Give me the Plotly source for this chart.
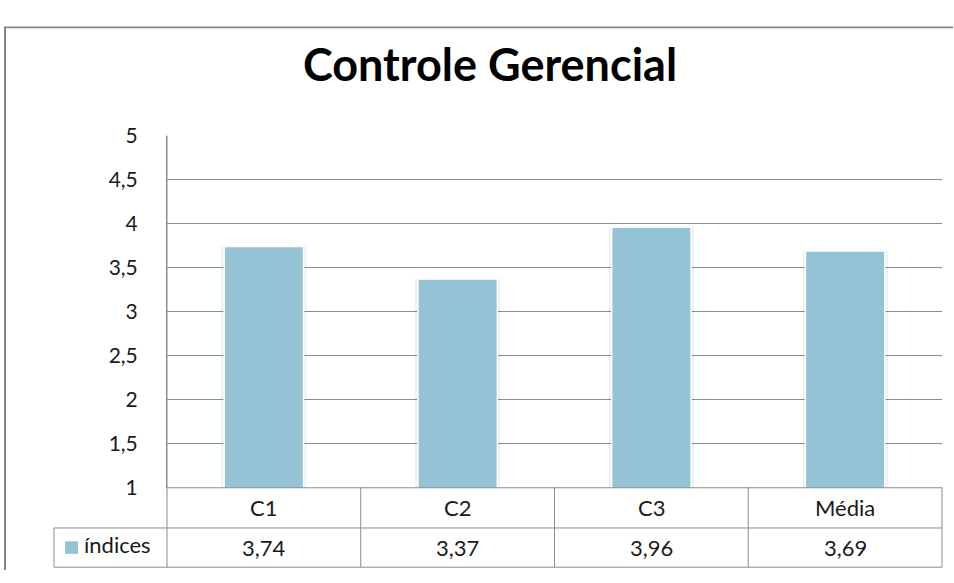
import plotly.graph_objects as go

# Data
categories = ["C1", "C2", "C3", "Média"]
indices = [3.74, 3.37, 3.96, 3.69]
series_name = "índices"
y_ticks = [1, 1.5, 2, 2.5, 3, 3.5, 4, 4.5, 5]
y_tick_labels = ["1", "1,5", "2", "2,5", "3", "3,5", "4", "4,5", "5"]

BAR_COLOR = "#93C3D4"
GRID = "#8c8c8c"
FONT = "Lato"
TXT = "#1a1a1a"

W, H = 954, 583
PLOT_L, PLOT_R, PLOT_T, PLOT_B = 167, 942, 127, 495


def px_(x):
    """pixel column -> paper x (zero margins, so paper spans the whole page)"""
    return x / W


def py(y):
    """pixel row -> paper y"""
    return (H - y) / H


xs = list(range(len(categories)))
n = len(categories)

fig = go.Figure()

# soft shadow behind bars
fig.add_trace(go.Bar(
    x=xs, y=indices, width=0.44,
    marker=dict(color="rgba(0,0,0,0.06)", line=dict(width=0)),
    hoverinfo="skip", showlegend=False,
))
fig.add_trace(go.Bar(
    x=xs, y=indices, width=0.41, name=series_name,
    marker=dict(color=BAR_COLOR, line=dict(color="white", width=1.5)),
    showlegend=False,
))

x0d, x1d = px_(PLOT_L), px_(PLOT_R)
y_base = py(PLOT_B)
row1, row2 = py(537), py(578)
line = dict(color=GRID, width=1)
shapes = []
# data table: horizontal rules
shapes.append(dict(type="line", xref="paper", yref="paper", x0=x0d, x1=x1d, y0=y_base, y1=y_base, line=line))
shapes.append(dict(type="line", xref="paper", yref="paper", x0=px_(54), x1=x1d, y0=row1, y1=row1, line=line))
shapes.append(dict(type="line", xref="paper", yref="paper", x0=px_(54), x1=x1d, y0=row2, y1=row2, line=line))
# data table: vertical rules at the category boundaries
for i in range(n + 1):
    xb = x0d + (x1d - x0d) * i / n
    shapes.append(dict(type="line", xref="paper", yref="paper", x0=xb, x1=xb,
                       y0=row2, y1=(py(PLOT_T) if i == 0 else y_base), line=line))
shapes.append(dict(type="line", xref="paper", yref="paper", x0=px_(54), x1=px_(54),
                   y0=row2, y1=row1, line=line))
# outer chart frame: top and left edges
FRAME = "#858585"
shapes.append(dict(type="rect", xref="paper", yref="paper", x0=px_(5), x1=px_(953),
                   y0=py(15), y1=py(13), fillcolor=FRAME, line=dict(width=0)))
shapes.append(dict(type="rect", xref="paper", yref="paper", x0=px_(4), x1=px_(6),
                   y0=py(581), y1=py(13), fillcolor=FRAME, line=dict(width=0)))
# legend key inside the table
shapes.append(dict(type="rect", xref="paper", yref="paper", x0=px_(65), x1=px_(78),
                   y0=py(564), y1=py(551), fillcolor=BAR_COLOR, line=dict(width=0)))

annotations = []
for i, (c, v) in enumerate(zip(categories, indices)):
    annotations.append(dict(x=i, y=(y_base + row1) / 2, xref="x", yref="paper", text=c,
                            yanchor="middle", showarrow=False,
                            font=dict(family=FONT, size=22, color=TXT)))
    annotations.append(dict(x=i, y=(row1 + row2) / 2, xref="x", yref="paper",
                            text=f"{v:.2f}".replace(".", ","), yanchor="middle",
                            showarrow=False, font=dict(family=FONT, size=22, color=TXT)))
annotations.append(dict(x=px_(82), y=(row1 + row2) / 2 + 0.006, xref="paper", yref="paper",
                        text=series_name, xanchor="left", yanchor="middle", showarrow=False,
                        font=dict(family=FONT, size=22, color=TXT)))

fig.update_layout(
    width=W, height=H,
    margin=dict(l=0, r=0, t=0, b=0),
    paper_bgcolor="white", plot_bgcolor="white",
    barmode="overlay",
    title=dict(text="<b>Controle Gerencial</b>", x=490 / W, xanchor="center",
               y=1 - 65 / H, yanchor="middle",
               font=dict(family=FONT, size=45, color="black")),
    xaxis=dict(domain=[x0d, x1d], range=[-0.5, n - 0.5], showticklabels=False,
               showgrid=False, zeroline=False, showline=False, fixedrange=True),
    yaxis=dict(domain=[y_base, py(PLOT_T)], range=[1, 5],
               tickvals=y_ticks, ticktext=y_tick_labels,
               showgrid=True, gridcolor=GRID, gridwidth=1, zeroline=False,
               showline=True, linecolor=GRID, linewidth=1,
               ticks="", ticklabelstandoff=24,
               tickfont=dict(family=FONT, size=21, color=TXT)),
    shapes=shapes, annotations=annotations,
    showlegend=False,
)

fig.write_html("out.html", config={"displayModeBar": False})
